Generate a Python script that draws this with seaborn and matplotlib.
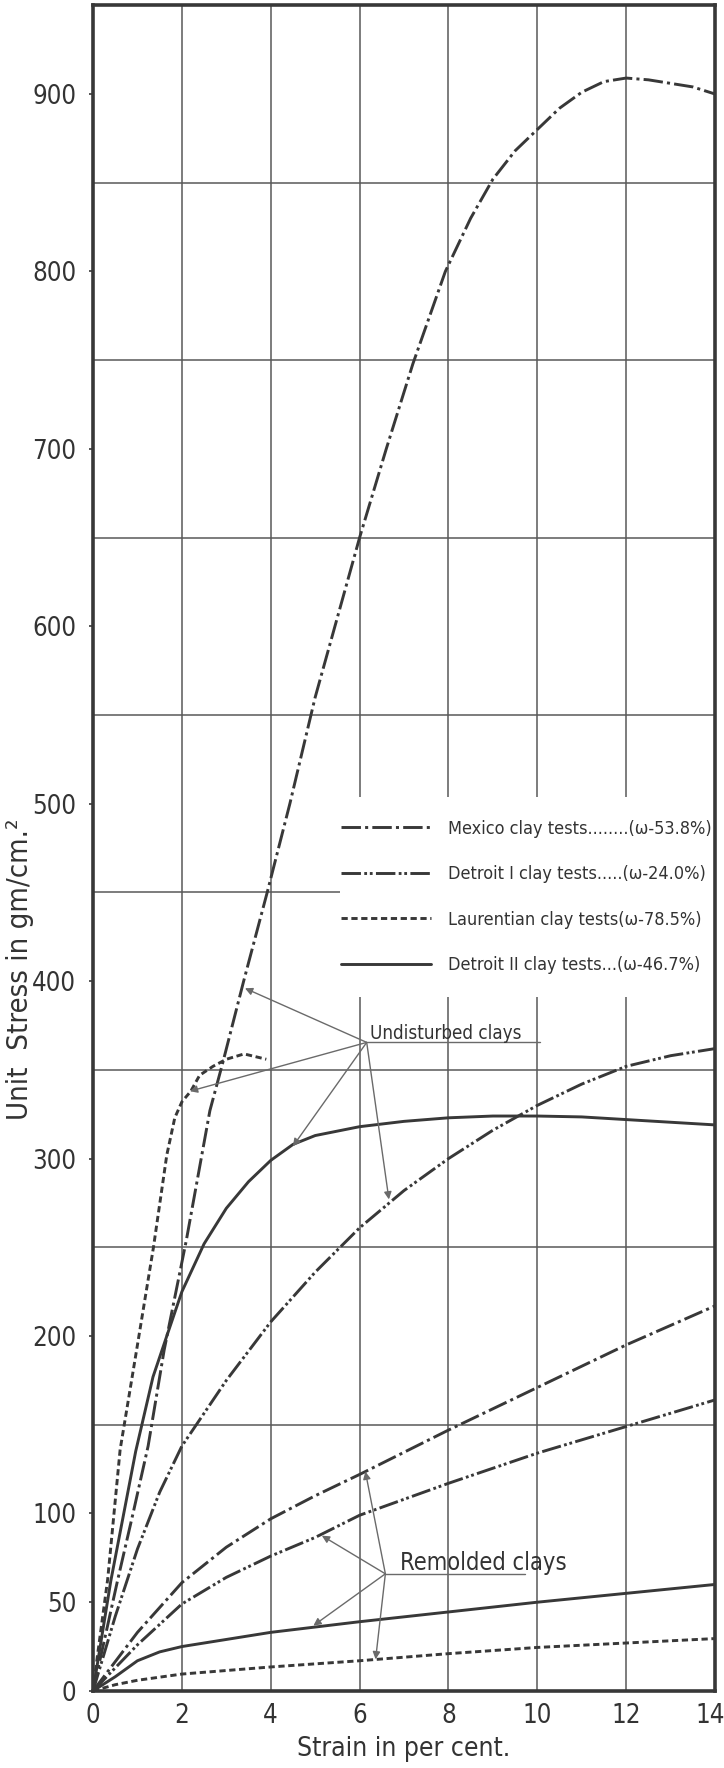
import matplotlib
matplotlib.use("Agg")
import matplotlib.pyplot as plt
import seaborn as sns
import numpy as np
from matplotlib import font_manager as fm
from matplotlib.lines import Line2D
from matplotlib.patches import Rectangle
from matplotlib.transforms import ScaledTranslation

# ---------------- data: stress (gm/cm^2) against strain (%) ----------------
# undisturbed samples
mexico_u_strain = [0, 0.25, 0.55, 0.9, 1.24, 1.6, 2.1, 2.63, 2.93, 3.39, 3.92, 4.43,
                   5.0, 5.5, 6.0, 6.6, 7.2, 7.93, 8.5, 9.0, 9.5, 10.0, 10.5, 11.0,
                   11.5, 12.0, 12.5, 13.0, 13.5, 14.0]
mexico_u_stress = [0, 28, 62, 100, 138, 192, 254, 327, 355, 400, 450, 500,
                   560, 605, 650, 700, 748, 800, 830, 852, 868, 880, 892, 901,
                   907, 909, 908, 906, 904, 900]

detroit1_u_strain = [0, 0.5, 1, 1.5, 2, 3, 4, 5, 6, 7, 8, 9, 10, 11, 12, 13, 14]
detroit1_u_stress = [0, 42, 80, 112, 138, 175, 208, 236, 261, 282, 300, 316, 330,
                     342, 352, 358, 362]

laurentian_u_strain = [0, 0.1, 0.33, 0.61, 0.98, 1.36, 1.66, 1.84, 2.0, 2.2, 2.4,
                       2.7, 3.0, 3.4, 3.9]
laurentian_u_stress = [0, 20, 63, 136, 192, 250, 302, 323, 332, 338, 347, 352,
                       356, 359, 356]

detroit2_u_strain = [0, 0.4, 0.96, 1.35, 1.66, 2.0, 2.5, 3.0, 3.5, 4.0, 4.5, 5.0,
                     6.0, 7.0, 8.0, 9.0, 10.0, 11.0, 12.0, 13.0, 14.0]
detroit2_u_stress = [0, 62, 135, 177, 200, 225, 252, 272, 287, 299, 308, 313,
                     318, 321, 323, 324, 324, 323.5, 322, 320.5, 319]

# remolded samples
mexico_r_strain = [0, 1, 2, 3, 4, 5, 6, 8, 10, 12, 14]
mexico_r_stress = [0, 33, 61, 81, 97, 110, 122, 147, 171, 195, 217]

detroit1_r_strain = [0, 1, 2, 3, 4, 5, 6, 8, 10, 12, 14]
detroit1_r_stress = [0, 26, 49, 64, 76, 86.5, 99, 117, 134, 149, 164]

detroit2_r_strain = [0, 0.5, 1, 1.5, 2, 3, 4, 5, 6, 8, 10, 12, 14]
detroit2_r_stress = [0, 8, 17, 22, 25, 29, 33, 36, 39, 44.5, 50, 55, 60]

laurentian_r_strain = [0, 0.5, 1, 2, 4, 6, 8, 10, 12, 14]
laurentian_r_stress = [0, 3.5, 6, 9.5, 13.5, 17, 21, 24.5, 27, 29.5]

legend_labels = [
    "Mexico clay tests........(\u03c9-53.8%)",
    "Detroit I clay tests.....(\u03c9-24.0%)",
    "Laurentian clay tests(\u03c9-78.5%)",
    "Detroit II clay tests...(\u03c9-46.7%)",
]

x_ticks = [0, 2, 4, 6, 8, 10, 12, 14]
y_ticks = [0, 50, 100, 200, 300, 400, 500, 600, 700, 800, 900]


# ---------------- fonts: prefer a narrow lettering face ----------------
def narrow_font_file():
    fonts = fm.fontManager.ttflist
    prefs = [
        lambda f: "LiberationSansNarrow-Regular" in f.fname,
        lambda f: "DejaVuSansCondensed.ttf" in f.fname,
        lambda f: "Condensed" in f.fname and "Bold" not in f.fname
                  and "Italic" not in f.fname and "Oblique" not in f.fname,
        lambda f: "Narrow" in f.fname and "Bold" not in f.fname
                  and "Italic" not in f.fname,
    ]
    for test in prefs:
        for f in fonts:
            if test(f):
                return f.fname
    return None


NARROW = narrow_font_file()


def fprop(size):
    if NARROW:
        return fm.FontProperties(fname=NARROW, size=size)
    return fm.FontProperties(family="Roboto", size=size)


# ---------------- styling ----------------
sns.set_theme(style="white")
plt.rcParams["font.family"] = ["DejaVu Sans"]
plt.rcParams["lines.scale_dashes"] = False

INK = "#383838"
TXT = "#333333"
GRID = "#585858"
ARROW = "#6a6a6a"

LS_MEXICO = (0, (14, 3, 2.2, 3))
LS_DETROIT1 = (0, (14, 2.4, 2.0, 2.0, 2.0, 2.4))
LS_LAUR = (0, (4.5, 2.6))
LS_DETROIT2 = "-"

fig = plt.figure(figsize=(7.24, 17.68), dpi=100)
fig.patch.set_facecolor("white")
ax = fig.add_axes([0.1285, 0.0436, 0.8591, 0.9534])
ax.set_facecolor("white")

series = [
    (mexico_u_strain, mexico_u_stress, LS_MEXICO),
    (detroit1_u_strain, detroit1_u_stress, LS_DETROIT1),
    (laurentian_u_strain, laurentian_u_stress, LS_LAUR),
    (detroit2_u_strain, detroit2_u_stress, LS_DETROIT2),
    (mexico_r_strain, mexico_r_stress, LS_MEXICO),
    (detroit1_r_strain, detroit1_r_stress, LS_DETROIT1),
    (laurentian_r_strain, laurentian_r_stress, LS_LAUR),
    (detroit2_r_strain, detroit2_r_stress, LS_DETROIT2),
]
for xs, ys, ls in series:
    sns.lineplot(x=xs, y=ys, ax=ax, color=INK, lw=2.1, linestyle=ls,
                 sort=False, estimator=None, zorder=4)

ax.set_xlim(0, 14)
ax.set_ylim(0, 950)

# grid: every 2 % of strain, every 50 gm/cm^2 of stress
ax.set_xticks(x_ticks)
ax.set_yticks(y_ticks)
ax.set_yticks(np.arange(0, 951, 50), minor=True)
ax.grid(False)
ax.grid(True, axis="x", which="major", color=GRID, lw=1.1, zorder=1)
ax.grid(True, axis="y", which="minor", color=GRID, lw=1.1, zorder=1)
ax.set_axisbelow(True)

ax.tick_params(axis="y", which="major", direction="out", length=3, width=1.2,
               color=INK, pad=9, labelcolor=TXT)
ax.tick_params(axis="y", which="minor", length=0)
ax.tick_params(axis="x", which="major", length=0, pad=9, labelcolor=TXT)
ax.tick_params(left=True, bottom=False)
for lbl in ax.get_xticklabels() + ax.get_yticklabels():
    lbl.set_fontproperties(fprop(18.5))
# keep the last strain label inside the sheet
last = ax.get_xticklabels()[-1]
last.set_transform(last.get_transform()
                   + ScaledTranslation(-5 / 100, 0, fig.dpi_scale_trans))

for sp in ax.spines.values():
    sp.set_visible(True)
    sp.set_color(INK)
    sp.set_linewidth(2.6)

ax.set_xlabel("Strain in per cent.", fontproperties=fprop(19), color=TXT)
ax.set_ylabel("Unit  Stress in gm/cm.\u00b2", fontproperties=fprop(21), color=TXT)
ax.yaxis.set_label_coords(-0.095, 0.428)
ax.xaxis.set_label_coords(0.50, -0.027)

# white panel behind the key
ax.add_patch(Rectangle((5.55, 391), 14 - 5.55, 113, facecolor="white",
                       edgecolor="none", zorder=2))

handles = [Line2D([0], [0], color=INK, lw=2.1, linestyle=ls)
           for ls in (LS_MEXICO, LS_DETROIT1, LS_LAUR, LS_DETROIT2)]
leg = ax.legend(handles, legend_labels, loc="upper right",
                bbox_to_anchor=(14, 493), bbox_transform=ax.transData,
                frameon=False, prop=fprop(13), handlelength=4.95,
                handletextpad=0.95, labelspacing=1.52, borderaxespad=0.0,
                borderpad=0.2)
for t in leg.get_texts():
    t.set_color(TXT)
leg.set_zorder(6)

# callouts
arrow_kw = dict(arrowstyle="-|>", color=ARROW, lw=1.0, mutation_scale=11,
                shrinkA=0, shrinkB=0)

und_hub = (6.16, 365.5)
und_tips = [(3.42, 396), (2.18, 338), (4.5, 307), (6.66, 277)]
for tip in und_tips:
    ax.annotate("", xy=tip, xytext=und_hub, arrowprops=arrow_kw, zorder=5)
ax.plot([6.16, 10.05], [365.5, 365.5], color=ARROW, lw=1.0, zorder=5)
ax.text(6.24, 367.5, "Undisturbed clays", fontproperties=fprop(13.5), color=TXT,
        ha="left", va="baseline", zorder=5)

rem_hub = (6.58, 66)
rem_tips = [(6.13, 123.6), (5.15, 87.5), (4.96, 36.8), (6.36, 17.8)]
for tip in rem_tips:
    ax.annotate("", xy=tip, xytext=rem_hub, arrowprops=arrow_kw, zorder=5)
ax.plot([6.58, 9.73], [66, 66], color=ARROW, lw=1.0, zorder=5)
ax.text(6.91, 68.3, "Remolded clays", fontproperties=fprop(17), color=TXT,
        ha="left", va="baseline", zorder=5)

fig.savefig("out.png", dpi=100, facecolor="white")
